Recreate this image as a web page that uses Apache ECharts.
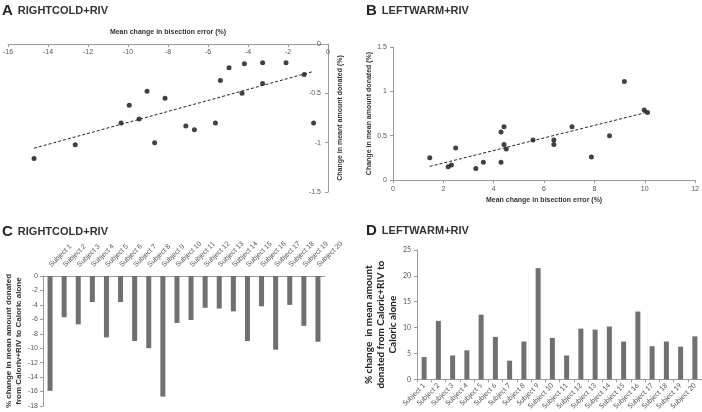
<!DOCTYPE html>
<html lang="en">
  <head>
    <meta charset="UTF-8" />
    <title>Bisection error and donation</title>
    <style>
      html,
      body {
        margin: 0;
        padding: 0;
        background: #fff;
      }
      #main {
        width: 702px;
        height: 412px;
      }
    </style>
  </head>
  <body>
    <div id="main"></div>
    <script src="https://cdn.jsdelivr.net/npm/echarts@6/dist/echarts.min.js"></script>
    <script>
      // panel A: RIGHTCOLD+RIV scatter
      const coldBisection = [-14.7, -12.64, -10.35, -9.94, -9.45, -9.05, -8.67, -8.15, -7.11, -6.68,
        -5.63, -5.38, -4.95, -4.3, -4.18, -3.27, -3.27, -2.1, -1.19, -0.72];
      const coldDonation = [-1.16, -1.02, -0.8, -0.62, -0.76, -0.48, -1.0, -0.55, -0.83, -0.87,
        -0.8, -0.37, -0.24, -0.5, -0.2, -0.19, -0.4, -0.19, -0.31, -0.8];

      // panel B: LEFTWARM+RIV scatter
      const warmBisection = [1.46, 2.19, 2.32, 2.49, 3.29, 3.59, 4.29, 4.29, 4.41, 4.41,
        4.5, 5.56, 6.39, 6.39, 7.11, 7.88, 8.6, 9.19, 9.98, 10.11];
      const warmDonation = [0.25, 0.15, 0.17, 0.36, 0.13, 0.2, 0.2, 0.54, 0.6, 0.4,
        0.35, 0.45, 0.45, 0.4, 0.6, 0.26, 0.5, 1.11, 0.79, 0.76];

      // panels C and D: per subject bars
      const subjects = ["Subject 1", "Subject 2", "Subject 3", "Subject 4", "Subject 5",
        "Subject 6", "Subject 7", "Subject 8", "Subject 9", "Subject 10", "Subject 11",
        "Subject 12", "Subject 13", "Subject 14", "Subject 15", "Subject 16", "Subject 17",
        "Subject 18", "Subject 19", "Subject 20"];
      const coldChange = [-15.9, -5.7, -6.7, -3.6, -8.5, -3.6, -9.0, -10.0, -16.7, -6.5,
        -6.1, -4.4, -4.5, -4.9, -9.0, -4.2, -10.2, -4.0, -6.9, -9.1];
      const warmChange = [4.3, 11.3, 4.6, 5.6, 12.5, 8.2, 3.6, 7.3, 21.5, 8.0,
        4.6, 9.8, 9.6, 10.2, 7.3, 13.1, 6.4, 7.3, 6.3, 8.3];

      // least squares line over the data range
      function trend(xs, ys) {
        const n = xs.length;
        let sx = 0, sy = 0, sxx = 0, sxy = 0;
        for (let i = 0; i < n; i++) {
          sx += xs[i]; sy += ys[i]; sxx += xs[i] * xs[i]; sxy += xs[i] * ys[i];
        }
        const b = (n * sxy - sx * sy) / (n * sxx - sx * sx);
        const a = (sy - b * sx) / n;
        const x0 = Math.min(...xs), x1 = Math.max(...xs);
        return [[x0, a + b * x0], [x1, a + b * x1]];
      }
      const zip = (xs, ys) => xs.map((x, i) => [x, ys[i]]);

      const font = "Liberation Sans, Arial, sans-serif";
      const axisGray = "#9a9a9a";
      const labelGray = "#555";
      const barGray = "#707070";

      const titleText = (letter, name) => ({
        padding: 0,
        text: "{l|" + letter + "} {n|" + name + "}",
        textStyle: {
          rich: {
            l: { fontFamily: font, fontWeight: "bold", fontSize: 15, color: "#222" },
            n: { fontFamily: font, fontSize: 11, color: "#333" },
          },
        },
      });

      const valueLabel = { fontFamily: font, fontSize: 7, color: labelGray };
      const nameStyle = { fontFamily: font, fontSize: 7, fontWeight: "bold", color: "#333" };
      const line = { lineStyle: { color: axisGray, width: 1 } };

      const chart = echarts.init(document.getElementById("main"));
      const option = {
        animation: false,
        title: [
          Object.assign({ left: 2, top: 2 }, titleText("A", "RIGHTCOLD+RIV")),
          Object.assign({ left: 366, top: 2 }, titleText("B", "LEFTWARM+RIV")),
          Object.assign({ left: 2, top: 223 }, titleText("C", "RIGHTCOLD+RIV")),
          Object.assign({ left: 366, top: 222 }, titleText("D", "LEFTWARM+RIV")),
        ],
        grid: [
          { left: 4, top: 44, width: 324, height: 148 },
          { left: 393, top: 47, width: 305, height: 133 },
          { left: 43, top: 276, width: 282, height: 130 },
          { left: 417, top: 250, width: 285, height: 132 },
        ],
        xAxis: [
          {
            gridIndex: 0, type: "value", min: -16, max: 0, interval: 2, position: "top",
            axisLine: Object.assign({ onZero: false }, line),
            axisTick: { show: true, inside: true, length: 3, lineStyle: { color: axisGray } },
            axisLabel: Object.assign({ inside: true, margin: 5 }, valueLabel),
            splitLine: { show: false },
            name: "Mean change in bisection error (%)", nameLocation: "middle", nameGap: 8,
            nameTextStyle: nameStyle,
          },
          {
            gridIndex: 1, type: "value", min: 0, max: 12, interval: 2,
            axisLine: Object.assign({ onZero: false }, line),
            axisTick: { show: true, length: 3, lineStyle: { color: axisGray } },
            axisLabel: Object.assign({ margin: 6 }, valueLabel),
            splitLine: { show: false },
            name: "Mean change in bisection error (%)", nameLocation: "middle", nameGap: 17,
            nameTextStyle: nameStyle,
          },
          {
            gridIndex: 2, type: "category", data: subjects, position: "top",
            axisLine: Object.assign({ onZero: false }, line),
            axisTick: { show: false },
            axisLabel: Object.assign({ rotate: -45, interval: 0, margin: 10 }, valueLabel),
          },
          {
            gridIndex: 3, type: "category", data: subjects,
            axisLine: line,
            axisTick: { show: true, length: 3, lineStyle: { color: axisGray } },
            axisLabel: {
              rotate: 45, interval: 0, margin: 5, fontSize: 7,
              fontFamily: "Lato, sans-serif", color: labelGray,
            },
          },
        ],
        yAxis: [
          {
            gridIndex: 0, type: "value", min: -1.5, max: 0, interval: 0.5, position: "right",
            axisLine: Object.assign({ show: true, onZero: false }, line),
            axisTick: { show: true, inside: true, length: 3, lineStyle: { color: axisGray } },
            axisLabel: Object.assign({ inside: true, margin: 7 }, valueLabel),
            splitLine: { show: false },
            name: "Change in meant amount donated (%)", nameLocation: "middle", nameGap: 9,
            nameRotate: 90, nameTextStyle: nameStyle,
          },
          {
            gridIndex: 1, type: "value", min: 0, max: 1.5, interval: 0.5,
            axisLine: Object.assign({ show: true, onZero: false }, line),
            axisTick: { show: true, length: 3, lineStyle: { color: axisGray } },
            axisLabel: Object.assign({ margin: 6 }, valueLabel),
            splitLine: { show: false },
            name: "Change in mean amount donated (%)", nameLocation: "middle", nameGap: 20,
            nameTextStyle: nameStyle,
          },
          {
            gridIndex: 2, type: "value", min: -18, max: 0, interval: 2,
            axisLine: Object.assign({ show: true, onZero: false }, line),
            axisTick: { show: true, length: 3, lineStyle: { color: axisGray } },
            axisLabel: Object.assign({ margin: 5 }, valueLabel),
            splitLine: { show: false },
            name: "% change in mean amount donated\nfrom Caloriv+RIV to Caloric alone",
            nameLocation: "middle", nameGap: 17,
            nameTextStyle: Object.assign({}, nameStyle, { fontSize: 8, lineHeight: 10 }),
          },
          {
            gridIndex: 3, type: "value", min: 0, max: 25, interval: 5,
            axisLine: Object.assign({ show: true }, line),
            axisTick: { show: true, length: 3, lineStyle: { color: axisGray } },
            axisLabel: { margin: 6, fontSize: 7, fontFamily: "Lato, sans-serif", color: labelGray },
            splitLine: { show: false },
            name: "% change  in mean amount\ndonated from Caloric+RIV to\nCaloric alone",
            nameLocation: "middle", nameGap: 17,
            nameTextStyle: {
              fontFamily: "Lato, sans-serif", fontWeight: "bold", fontSize: 10,
              lineHeight: 12, color: "#222", padding: [0, 20, 0, 0],
            },
          },
        ],
        series: [
          {
            type: "scatter", xAxisIndex: 0, yAxisIndex: 0, symbolSize: 5,
            itemStyle: { color: "#111" }, data: zip(coldBisection, coldDonation),
          },
          {
            type: "line", xAxisIndex: 0, yAxisIndex: 0, symbol: "none",
            lineStyle: { color: "#222", width: 1, type: [3, 2] },
            data: trend(coldBisection, coldDonation),
          },
          {
            type: "scatter", xAxisIndex: 1, yAxisIndex: 1, symbolSize: 5,
            itemStyle: { color: "#111" }, data: zip(warmBisection, warmDonation),
          },
          {
            type: "line", xAxisIndex: 1, yAxisIndex: 1, symbol: "none",
            lineStyle: { color: "#222", width: 1, type: [3, 2] },
            data: trend(warmBisection, warmDonation),
          },
          {
            type: "bar", xAxisIndex: 2, yAxisIndex: 2, barWidth: 5,
            itemStyle: { color: barGray }, data: coldChange,
          },
          {
            type: "bar", xAxisIndex: 3, yAxisIndex: 3, barWidth: 5,
            itemStyle: { color: barGray }, data: warmChange,
          },
        ],
      };
      chart.setOption(option);
    </script>
  </body>
</html>
